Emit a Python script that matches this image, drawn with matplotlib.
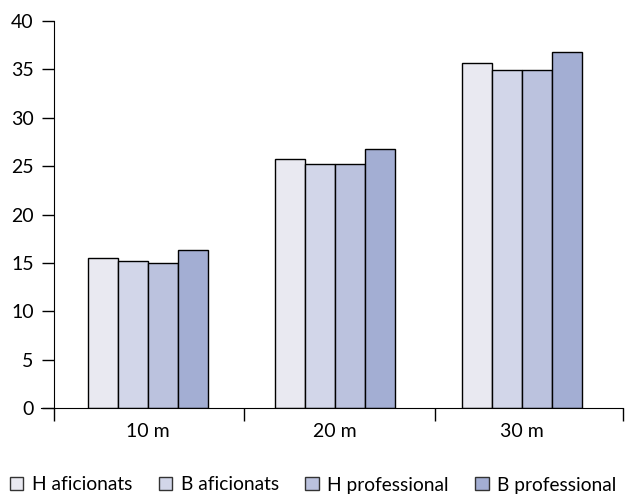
import matplotlib.pyplot as plt
import numpy as np

categories = ["10 m", "20 m", "30 m"]
series = ["H aficionats", "B aficionats", "H professional", "B professional"]
h_afic = [15.5, 25.7, 35.7]
b_afic = [15.2, 25.2, 34.9]
h_prof = [15.0, 25.2, 34.9]
b_prof = [16.3, 26.8, 36.8]
colors = ["#E9E9F1", "#D2D6E9", "#BBC2DE", "#A3AED3"]

plt.rcParams["font.family"] = ["Lato", "DejaVu Sans"]

fig = plt.figure(figsize=(6.27, 4.96), dpi=100)
ax = fig.add_axes([41 / 627, 1 - 408 / 496, (623 - 41) / 627, (408 - 21) / 496])

x = np.arange(len(categories))
w = 0.16
for i, (vals, name) in enumerate(zip([h_afic, b_afic, h_prof, b_prof], series)):
    ax.bar(x + (i - 1.5) * w, vals, w, color=colors[i], edgecolor="black",
           linewidth=1.0, label=name)

ax.set_xlim(-0.572, 2.54)
ax.set_ylim(0, 40)
ax.spines["top"].set_visible(False)
ax.spines["right"].set_visible(False)
ax.spines["left"].set_position(("data", -0.5))
ax.set_yticks(range(0, 41, 5))
ax.set_xticks([-0.5, 0.513, 1.535, 2.54])
ax.set_xticklabels([])
ax.set_xticks(x, minor=True)
ax.set_xticklabels(categories, minor=True)
ax.tick_params(axis="x", which="minor", length=0, pad=11, labelsize=14)
ax.tick_params(axis="x", which="major", length=9, width=1)
ax.tick_params(axis="y", length=9, width=1, pad=6, labelsize=14)

handles, labels = ax.get_legend_handles_labels()
leg = fig.legend(handles, labels, loc="center left",
                 bbox_to_anchor=(10 / 627, 1 - 485 / 496), ncol=4,
                 frameon=False, fontsize=13.8, handlelength=0.68, handleheight=0.68,
                 handletextpad=0.45, columnspacing=1.4, borderaxespad=0, borderpad=0)
for h in leg.legend_handles:
    h.set_edgecolor("#333333")

fig.savefig("out.png", dpi=100)
